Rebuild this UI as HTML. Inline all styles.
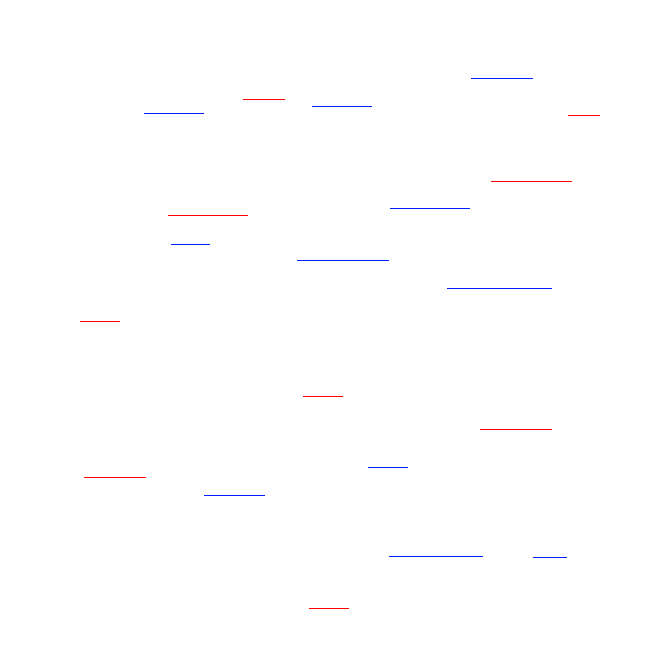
<!DOCTYPE html>
<html><head><meta charset="utf-8"><style>html,body{margin:0;padding:0;background:#fff;width:670px;height:670px;overflow:hidden}</style></head>
<body>
<svg width="670" height="670" xmlns="http://www.w3.org/2000/svg" shape-rendering="crispEdges">
<g stroke-width="1.2">
<line x1="471" y1="78.5" x2="533" y2="78.5" stroke="#0022ff"/>
<line x1="243" y1="99.5" x2="285" y2="99.5" stroke="#ff0000"/>
<line x1="312" y1="106.5" x2="372" y2="106.5" stroke="#0022ff"/>
<line x1="144" y1="113.5" x2="204" y2="113.5" stroke="#0022ff"/>
<line x1="568" y1="115.5" x2="600" y2="115.5" stroke="#ff0000"/>
<line x1="491" y1="181.5" x2="572" y2="181.5" stroke="#ff0000"/>
<line x1="390" y1="208.5" x2="470" y2="208.5" stroke="#0022ff"/>
<line x1="168" y1="215.5" x2="248" y2="215.5" stroke="#ff0000"/>
<line x1="171" y1="244.5" x2="210" y2="244.5" stroke="#0022ff"/>
<line x1="297" y1="260.5" x2="389" y2="260.5" stroke="#0022ff"/>
<line x1="447" y1="288.5" x2="552" y2="288.5" stroke="#0022ff"/>
<line x1="80" y1="321.5" x2="120" y2="321.5" stroke="#ff0000"/>
<line x1="303" y1="396.5" x2="343" y2="396.5" stroke="#ff0000"/>
<line x1="480" y1="429.5" x2="552" y2="429.5" stroke="#ff0000"/>
<line x1="368" y1="467.5" x2="408" y2="467.5" stroke="#0022ff"/>
<line x1="84" y1="477.5" x2="146" y2="477.5" stroke="#ff0000"/>
<line x1="204" y1="495.5" x2="265" y2="495.5" stroke="#0022ff"/>
<line x1="389" y1="556.5" x2="483" y2="556.5" stroke="#0022ff"/>
<line x1="533" y1="557.5" x2="567" y2="557.5" stroke="#0022ff"/>
<line x1="309" y1="608.5" x2="349" y2="608.5" stroke="#ff0000"/>
</g>
</svg>
</body></html>
